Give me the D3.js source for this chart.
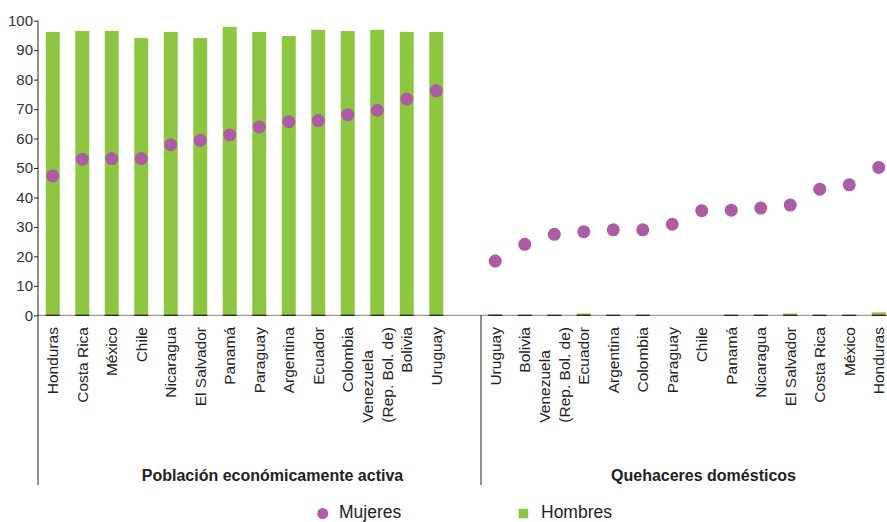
<!DOCTYPE html>
<html>
<head>
<meta charset="utf-8">
<script src="https://cdn.jsdelivr.net/npm/d3@7"></script>
<style>
  html, body { margin: 0; padding: 0; background: #fff; }
  svg { display: block; font-family: "Liberation Sans", Arial, sans-serif; }
</style>
</head>
<body>
<svg id="chart" width="887" height="522"></svg>
<script>
// ---- Data ----
const peaCountries = ["Honduras", "Costa Rica", "México", "Chile", "Nicaragua", "El Salvador", "Panamá",
  "Paraguay", "Argentina", "Ecuador", "Colombia", "Venezuela (Rep. Bol. de)", "Bolivia", "Uruguay"];
const peaMujeres = [47.3, 53.0, 53.2, 53.2, 57.9, 59.4, 61.2, 63.9, 65.7, 66.1, 68.1, 69.6, 73.4, 76.2];
const peaHombres = [96.2, 96.5, 96.5, 94.1, 96.2, 94.1, 97.9, 96.2, 94.8, 96.9, 96.5, 96.9, 96.2, 96.2];

const qdCountries = ["Uruguay", "Bolivia", "Venezuela (Rep. Bol. de)", "Ecuador", "Argentina", "Colombia",
  "Paraguay", "Chile", "Panamá", "Nicaragua", "El Salvador", "Costa Rica", "México", "Honduras"];
const qdMujeres = [18.4, 24.1, 27.5, 28.4, 29.0, 29.0, 30.9, 35.5, 35.7, 36.4, 37.4, 42.8, 44.3, 50.2];
const qdHombres = [0.3, 0.1, 0.1, 0.6, 0.1, 0.1, 0.0, 0.0, 0.1, 0.1, 0.6, 0.1, 0.1, 1.0];

const panelTitles = ["Población económicamente activa", "Quehaceres domésticos"];
const yTicks = [0, 10, 20, 30, 40, 50, 60, 70, 80, 90, 100];
const legendLabels = ["Mujeres", "Hombres"];

// ---- Build slots (left panel, one empty gap slot, right panel) ----
const slots = [];
peaCountries.forEach((c, i) => slots.push({ key: "pea-" + i, name: c, m: peaMujeres[i], h: peaHombres[i] }));
slots.push({ key: "gap", name: null });
qdCountries.forEach((c, i) => slots.push({ key: "qd-" + i, name: c, m: qdMujeres[i], h: qdHombres[i] }));

const GREEN = "#8DC641", PURPLE = "#AE5BA6", TEXT = "#222";
const left = 38, yTop = 20.7, yBase = 315.3, stepW = 29.5;

const svg = d3.select("#chart");
const x = d3.scalePoint().domain(slots.map(d => d.key))
  .range([left, left + slots.length * stepW]).padding(0.5);
const y = d3.scaleLinear().domain([0, 100]).range([yBase, yTop]);
const barW = 14;

// baseline axis (grey)
svg.append("line").attr("x1", left).attr("x2", 887).attr("y1", yBase).attr("y2", yBase)
  .attr("stroke", "#9a9a9a").attr("stroke-width", 1.2);

const data = slots.filter(d => d.name);

// bars
svg.append("g").selectAll("rect").data(data.filter(d => d.h > 0)).join("rect")
  .attr("x", d => x(d.key) - barW / 2)
  .attr("width", barW)
  .attr("y", d => y(d.h))
  .attr("height", d => Math.max(yBase - y(d.h), 0))
  .attr("fill", GREEN);
// dark bar bottoms
svg.append("g").selectAll("line").data(data.filter(d => d.h > 0)).join("line")
  .attr("x1", d => x(d.key) - barW / 2).attr("x2", d => x(d.key) + barW / 2)
  .attr("y1", yBase).attr("y2", yBase)
  .attr("stroke", "#1a1a1a").attr("stroke-width", 1.2);

// dots
svg.append("g").selectAll("circle").data(data).join("circle")
  .attr("cx", d => x(d.key)).attr("cy", d => y(d.m)).attr("r", 6.5)
  .attr("fill", PURPLE);

// y axis
const yAxis = d3.axisLeft(y).tickValues(yTicks).tickSize(4).tickPadding(1).tickFormat(d3.format("d"));
const gy = svg.append("g").attr("transform", `translate(${left},0)`).call(yAxis);
gy.select(".domain").remove();
gy.selectAll(".tick line").attr("stroke", "#222");
gy.selectAll(".tick text").attr("font-size", 15).attr("fill", "#333")
  .attr("font-family", "Liberation Sans, Arial, sans-serif");
svg.append("line").attr("x1", left).attr("x2", left).attr("y1", yTop).attr("y2", 485)
  .attr("stroke", "#222").attr("stroke-width", 1);

// divider between panels
svg.append("line").attr("x1", 481).attr("x2", 481).attr("y1", yBase).attr("y2", 485)
  .attr("stroke", "#222").attr("stroke-width", 1);

// category labels (rotated)
const labelTop = 327;
const lg = svg.append("g");
data.forEach(d => {
  const lines = d.name.includes(" (") ? [d.name.slice(0, d.name.indexOf(" (")), d.name.slice(d.name.indexOf(" (") + 1)] : [d.name];
  const g = lg.append("g").attr("transform", `translate(${x(d.key)},${labelTop}) rotate(-90)`);
  const texts = lines.map((t, i) => g.append("text")
    .attr("font-size", 15.5).attr("fill", TEXT)
    .attr("y", (i - (lines.length - 1) / 2) * 20)
    .attr("dy", "0.36em")
    .text(t));
  if (lines.length === 1) {
    texts[0].attr("text-anchor", "end").attr("x", 0);
  } else {
    const maxLen = d3.max(texts, t => t.node().getComputedTextLength());
    texts.forEach(t => t.attr("text-anchor", "start").attr("x", -maxLen));
  }
});

// panel titles
const titleX = [272.5, 703.5];
panelTitles.forEach((t, i) => svg.append("text")
  .attr("x", titleX[i]).attr("y", 481).attr("text-anchor", "middle")
  .attr("font-size", 16).attr("font-weight", "bold").attr("fill", TEXT).text(t));

// legend
const leg = svg.append("g");
leg.append("circle").attr("cx", 322.7).attr("cy", 513.5).attr("r", 5.5).attr("fill", PURPLE);
leg.append("text").attr("x", 339).attr("y", 517.5).attr("font-size", 17.5).attr("fill", TEXT).text(legendLabels[0]);
leg.append("rect").attr("x", 518.7).attr("y", 508.8).attr("width", 9.5).attr("height", 9.5).attr("fill", GREEN);
leg.append("text").attr("x", 541).attr("y", 517.5).attr("font-size", 17.5).attr("fill", TEXT).text(legendLabels[1]);
</script>
</body>
</html>
